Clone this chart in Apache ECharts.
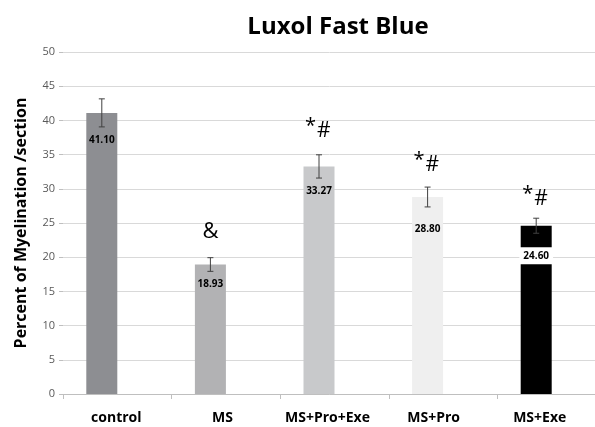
<!DOCTYPE html>
<html>
<head>
<meta charset="utf-8">
<script src="https://cdn.jsdelivr.net/npm/echarts@6/dist/echarts.min.js"></script>
<style>
  html, body { margin: 0; padding: 0; background: #fff; }
  #chart { width: 595px; height: 427px; }
</style>
</head>
<body>
<div id="chart"></div>
<script>
// Myelination per section for each group (Luxol Fast Blue staining)
const categories = ['control', 'MS', 'MS+Pro+Exe', 'MS+Pro', 'MS+Exe'];
const values = [41.10, 18.93, 33.27, 28.80, 24.60];
const errors = [2.05, 1.0, 1.7, 1.45, 1.1];
const marks = ['', '&', '*#', '*#', '*#'];
const yTicks = [0, 5, 10, 15, 20, 25, 30, 35, 40, 45, 50];

// Styling per bar
const barColors = ['#8d8e92', '#b2b2b4', '#c8c9cb', '#efefef', '#000000'];
const labelDrop = [27, 20, 25, 32, 30];   // px below bar top
const markRise = [0, 26, 25, 23, 20];     // px above error cap
const labelShift = [1, 3.5, 7, 9.5, 12];  // px the category names sit left of centre
const BAR_W = 31;

const chart = echarts.init(document.getElementById('chart'));
const font = '"Open Sans", "DejaVu Sans", sans-serif';

const catRich = {};
labelShift.forEach((s, i) => {
  catRich['c' + i] = {
    fontFamily: font, fontWeight: 'bold', fontSize: 14, color: '#000',
    padding: [0, s * 2, 0, 0]
  };
});

chart.setOption({
  animation: false,
  title: {
    text: 'Luxol Fast Blue',
    left: 333, textAlign: 'center', top: 10,
    textStyle: { fontFamily: font, fontWeight: 'bold', fontSize: 24, color: '#000' }
  },
  // plot area runs a little past the right edge of the canvas
  grid: { left: 63, width: 543, top: 52, bottom: 33, outerBoundsMode: 'none', containLabel: false },
  xAxis: {
    type: 'category',
    data: categories,
    axisLine: { lineStyle: { color: '#bfbfbf' } },
    axisTick: { show: true, length: 5, lineStyle: { color: '#bfbfbf' } },
    axisLabel: {
      interval: 0, margin: 17,
      formatter: (v, i) => '{c' + i + '|' + v + '}',
      rich: catRich
    }
  },
  yAxis: {
    type: 'value', min: yTicks[0], max: yTicks[yTicks.length - 1], interval: 5,
    name: 'Percent of Myelination /section',
    nameLocation: 'middle', nameGap: 34,
    nameTextStyle: { fontFamily: font, fontWeight: 'bold', fontSize: 16, color: '#000' },
    axisLine: { show: false },
    axisTick: { show: true, length: 4, lineStyle: { color: '#bfbfbf' } },
    axisLabel: { fontFamily: font, fontSize: 11, color: '#595959', margin: 8 },
    splitLine: { lineStyle: { color: '#d9d9d9', width: 1 } }
  },
  series: [
    {
      type: 'bar',
      barWidth: BAR_W,
      barGap: 0,
      data: values.map((v, i) => ({ value: v, itemStyle: { color: barColors[i] } })),
      z: 2
    },
    {
      // empty companion slot: keeps each bar in the left half of its group
      type: 'bar',
      barWidth: BAR_W,
      data: values.map(() => null)
    },
    {
      // error bars, value labels and significance marks
      type: 'custom',
      data: values.map((v, i) => [i, v, errors[i]]),
      z: 3,
      renderItem: function (params, api) {
        const i = api.value(0);
        const v = api.value(1);
        const e = api.value(2);
        const dx = -BAR_W / 2;
        const top = api.coord([i, v + e]);
        const bot = api.coord([i, v - e]);
        const mid = api.coord([i, v]);
        const x = top[0] + dx;
        const cap = 3;
        const lc = '#404040';
        const children = [
          { type: 'line', shape: { x1: x, y1: top[1], x2: x, y2: bot[1] }, style: { stroke: lc, lineWidth: 1 } },
          { type: 'line', shape: { x1: x - cap, y1: top[1], x2: x + cap, y2: top[1] }, style: { stroke: lc, lineWidth: 1 } },
          { type: 'line', shape: { x1: x - cap, y1: bot[1], x2: x + cap, y2: bot[1] }, style: { stroke: lc, lineWidth: 1 } }
        ];
        const dark = i === 4;
        children.push({
          type: 'text',
          style: {
            x: x, y: mid[1] + labelDrop[i],
            text: values[i].toFixed(2),
            align: 'center', verticalAlign: 'middle',
            font: 'bold 10px ' + font,
            fill: '#000',
            backgroundColor: dark ? '#fff' : null,
            padding: dark ? [4, 4, 3, 4] : 0
          }
        });
        if (marks[i]) {
          const my = top[1] - markRise[i];
          if (marks[i] === '&') {
            children.push({ type: 'text', style: { x: x, y: my, text: '&', align: 'center', verticalAlign: 'middle', font: '22px ' + font, fill: '#000' } });
          } else {
            children.push({ type: 'text', style: { x: x - 3, y: my - 4, text: '*', align: 'right', verticalAlign: 'middle', font: '20px ' + font, fill: '#000' } });
            children.push({ type: 'text', style: { x: x - 2, y: my + 1, text: '#', align: 'left', verticalAlign: 'middle', font: '21px ' + font, fill: '#000' } });
          }
        }
        return { type: 'group', children: children };
      }
    }
  ]
});
</script>
</body>
</html>
